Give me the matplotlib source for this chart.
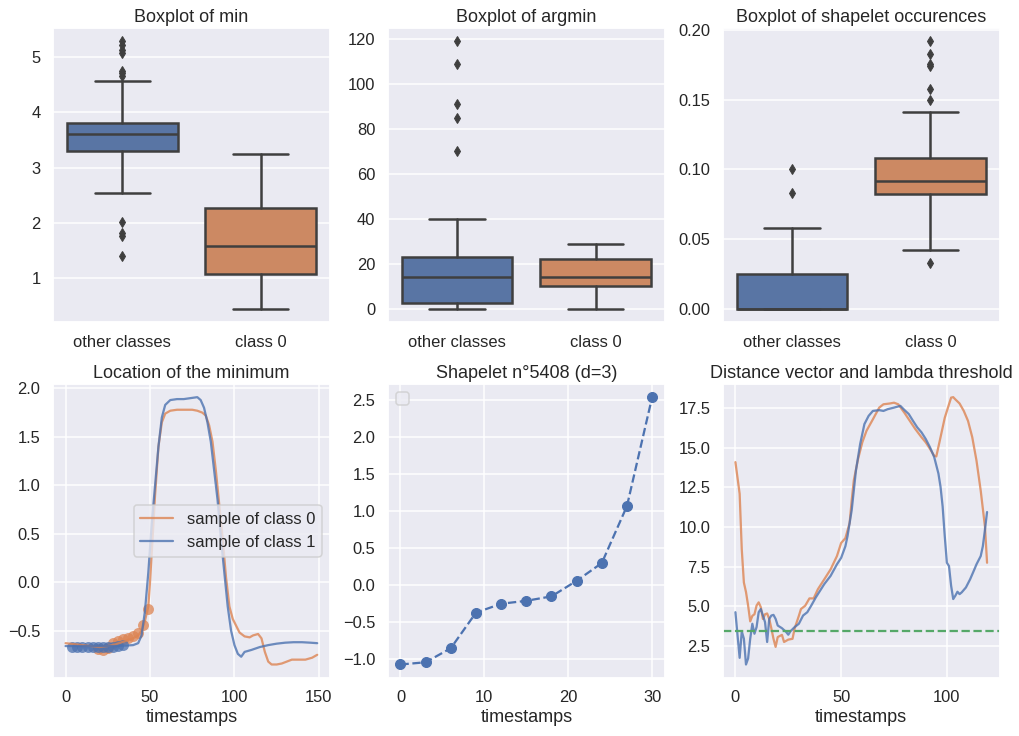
import matplotlib
matplotlib.use("Agg")
import matplotlib.pyplot as plt
import seaborn as sns

sns.set_theme(context="talk", style="darkgrid")
plt.rcParams["font.family"] = ["Liberation Sans", "DejaVu Sans"]

# ── Data ──────────────────────────────────────────────────────────────────────
categories = ["other classes", "class 0"]

# box stats as [whislo, q1, med, q3, whishi]
min_other = [2.54, 3.30, 3.60, 3.81, 4.56]
min_other_fliers = [5.28, 5.22, 5.13, 5.07, 4.75, 4.70, 4.66, 2.02, 1.82, 1.76, 1.40]
min_class0 = [0.45, 1.07, 1.59, 2.26, 3.24]
min_class0_fliers = []

argmin_other = [0, 2.5, 14, 23, 40]
argmin_other_fliers = [119, 109, 91, 85, 70]
argmin_class0 = [0, 10, 14, 22, 29]
argmin_class0_fliers = []

occ_other = [0.0, 0.0, 0.0, 0.025, 0.058]
occ_other_fliers = [0.100, 0.083]
occ_class0 = [0.042, 0.082, 0.092, 0.108, 0.141]
occ_class0_fliers = [0.192, 0.183, 0.176, 0.174, 0.158, 0.150, 0.033]

# sample series (location of the minimum)
loc_t0 = [0, 5, 10, 15, 20, 25, 30, 35, 40, 43, 45, 47, 49, 50, 51, 53, 55, 57,
          59, 62, 66, 70, 75, 78, 81, 83, 85, 87, 89, 91, 93, 95, 97, 99, 101,
          103, 106, 109, 111, 114, 116, 118, 120, 122, 125, 128, 131, 134, 138,
          142, 146, 149]
loc_y0 = [-0.63, -0.64, -0.65, -0.66, -0.67, -0.66, -0.64, -0.61, -0.58, -0.55,
          -0.50, -0.40, -0.25, 0.0, 0.3, 0.9, 1.4, 1.65, 1.74, 1.77, 1.78, 1.78,
          1.78, 1.77, 1.75, 1.72, 1.62, 1.45, 1.15, 0.80, 0.45, 0.05, -0.25,
          -0.38, -0.45, -0.52, -0.56, -0.57, -0.55, -0.535, -0.58, -0.72, -0.82,
          -0.85, -0.85, -0.84, -0.82, -0.80, -0.80, -0.80, -0.78, -0.75]
loc_t1 = [0, 10, 20, 30, 40, 43, 45, 47, 49, 51, 53, 55, 57, 59, 62, 66, 70, 74,
          78, 80, 82, 84, 86, 88, 90, 92, 94, 96, 98, 100, 102, 104, 106, 110,
          115, 120, 125, 130, 135, 140, 145, 149]
loc_y1 = [-0.66, -0.66, -0.66, -0.66, -0.65, -0.63, -0.55, -0.30, 0.10, 0.60,
          1.00, 1.40, 1.70, 1.83, 1.88, 1.89, 1.89, 1.90, 1.91, 1.88, 1.80, 1.65,
          1.45, 1.15, 0.85, 0.45, 0.10, -0.25, -0.50, -0.65, -0.74, -0.77, -0.72,
          -0.70, -0.67, -0.65, -0.635, -0.625, -0.62, -0.62, -0.625, -0.63]

match_t0 = [19, 22, 25, 28, 31, 34, 37, 40, 43, 46, 49]
match_y0 = [-0.69, -0.70, -0.68, -0.63, -0.61, -0.59, -0.58, -0.56, -0.53, -0.44, -0.28]
match_t1 = [4, 7, 10, 13, 16, 19, 22, 25, 28, 31, 34]
match_y1 = [-0.67, -0.67, -0.67, -0.67, -0.67, -0.67, -0.67, -0.67, -0.67, -0.66, -0.65]

# shapelet values
shp_t = [0, 3, 6, 9, 12, 15, 18, 21, 24, 27, 30]
shp_y = [-1.07, -1.04, -0.85, -0.37, -0.25, -0.21, -0.15, 0.06, 0.30, 1.07, 2.54]

# distance vectors
dist_t0 = [0, 2, 3, 4, 5, 6, 7, 8, 9, 10, 11, 12, 13, 14, 15, 16, 17, 18, 19,
           20, 22, 23, 25, 27, 28, 30, 31, 33, 35, 37, 39, 42, 45, 48, 50, 52,
           54, 55, 56, 58, 60, 62, 65, 68, 70, 73, 75, 77, 80, 83, 85, 88, 90,
           92, 94, 95, 97, 99, 101, 102, 103, 104, 106, 108, 110, 112, 114, 116,
           118, 119]
dist_y0 = [14.1, 12.1, 8.6, 6.5, 5.9, 5.05, 4.05, 4.4, 4.5, 5.05, 5.25, 4.95,
           4.2, 4.5, 4.55, 4.2, 3.6, 2.95, 2.44, 3.06, 3.2, 2.75, 2.9, 2.95, 3.6,
           4.4, 4.83, 5.04, 5.5, 5.5, 6.08, 6.7, 7.33, 8.17, 9.0, 9.3, 10.25,
           11.7, 12.96, 14.3, 15.35, 16.08, 16.8, 17.54, 17.75, 17.8, 17.85,
           17.75, 17.2, 16.6, 16.2, 15.67, 15.35, 14.94, 14.5, 14.46, 15.67, 16.9,
           17.75, 18.17, 18.2, 18.06, 17.8, 17.33, 16.7, 15.67, 14.2, 12.3, 10.04,
           7.75]
dist_t1 = [0, 1, 2, 3, 4, 5, 6, 7, 8, 9, 10, 11, 12, 13, 14, 15, 16, 17, 18, 19,
           20, 22, 24, 25, 26, 28, 30, 32, 34, 36, 38, 40, 42, 45, 48, 50, 52,
           53, 55, 57, 59, 61, 63, 65, 68, 70, 72, 75, 78, 80, 82, 84, 86, 88, 90,
           92, 94, 96, 97, 98, 99, 100, 101, 102, 103, 104, 105, 106, 107, 109,
           111, 113, 114, 116, 117, 118, 119]
dist_y1 = [4.63, 3.17, 1.75, 3.42, 2.96, 1.33, 1.71, 2.96, 3.9, 3.27, 3.69, 4.63,
           4.83, 4.42, 4.0, 2.75, 4.21, 4.42, 4.46, 4.21, 3.79, 3.62, 3.38, 3.21,
           3.42, 3.69, 3.9, 4.42, 4.63, 5.08, 5.56, 5.98, 6.4, 6.92, 7.65, 8.06,
           8.79, 9.42, 11.08, 13.58, 15.25, 16.5, 17.02, 17.33, 17.38, 17.33,
           17.44, 17.54, 17.65, 17.38, 17.13, 16.7, 16.29, 15.98, 15.56, 15.04,
           14.42, 13.38, 12.54, 11.29, 9.42, 7.75, 7.54, 6.3, 5.46, 5.67, 5.92,
           5.77, 5.88, 6.19, 6.71, 7.33, 7.65, 8.17, 8.79, 9.83, 10.95]
lambda_threshold = 3.45

# ── Style ─────────────────────────────────────────────────────────────────────
pal = sns.color_palette("deep")
C_BLUE, C_ORANGE, C_GREEN = pal[0], pal[1], pal[2]
BOX_COLORS = [sns.desaturate(C_BLUE, 0.75), sns.desaturate(C_ORANGE, 0.75)]
GRAY = "#3f3f3f"
LW = 2.5


def boxplot(ax, boxes, fliers, title):
    stats = []
    for vals, fl, lab in zip(boxes, fliers, categories):
        lo, q1, med, q3, hi = vals
        stats.append(dict(whislo=lo, q1=q1, med=med, q3=q3, whishi=hi,
                          fliers=fl, label=lab))
    res = ax.bxp(stats, positions=[0, 1], widths=0.8, patch_artist=True,
                 boxprops=dict(edgecolor=GRAY, linewidth=LW),
                 medianprops=dict(color=GRAY, linewidth=LW),
                 whiskerprops=dict(color=GRAY, linewidth=LW),
                 capprops=dict(color=GRAY, linewidth=LW),
                 flierprops=dict(marker="d", markerfacecolor=GRAY,
                                 markeredgecolor=GRAY, markersize=7.5))
    for patch, c in zip(res["boxes"], BOX_COLORS):
        patch.set_facecolor(c)
    ax.set_xlim(-0.5, 1.5)
    ax.xaxis.grid(False)
    ax.set_title(title)


fig, axes = plt.subplots(2, 3, figsize=(1019 / 72, 736 / 72), dpi=72)
fig.subplots_adjust(left=0.052, right=0.981, top=0.962, bottom=0.079,
                    wspace=0.21, hspace=0.21)

boxplot(axes[0, 0], [min_other, min_class0],
        [min_other_fliers, min_class0_fliers], "Boxplot of min")
boxplot(axes[0, 1], [argmin_other, argmin_class0],
        [argmin_other_fliers, argmin_class0_fliers], "Boxplot of argmin")
boxplot(axes[0, 2], [occ_other, occ_class0],
        [occ_other_fliers, occ_class0_fliers], "Boxplot of shapelet occurences")

# ── Location of the minimum ──────────────────────────────────────────────────
ax = axes[1, 0]
ax.plot(loc_t0, loc_y0, color=C_ORANGE, alpha=0.8, lw=2.25, label="sample of class 0")
ax.plot(loc_t1, loc_y1, color=C_BLUE, alpha=0.8, lw=2.25, label="sample of class 1")
ax.scatter(match_t0, match_y0, color=C_ORANGE, alpha=0.75, s=120, lw=0)
ax.scatter(match_t1, match_y1, color=C_BLUE, alpha=0.75, s=120, lw=0)
ax.legend(loc="center right")
ax.set_title("Location of the minimum")
ax.set_xlabel("timestamps")

# ── Shapelet ─────────────────────────────────────────────────────────────────
ax = axes[1, 1]
ax.plot(shp_t, shp_y, "o--", color=C_BLUE, markersize=10, lw=2.25)
ax.legend(handles=[], loc="upper left")
ax.set_title("Shapelet n°5408 (d=3)")
ax.set_xlabel("timestamps")

# ── Distance vector ──────────────────────────────────────────────────────────
ax = axes[1, 2]
ax.plot(dist_t0, dist_y0, color=C_ORANGE, alpha=0.8, lw=2.25)
ax.plot(dist_t1, dist_y1, color=C_BLUE, alpha=0.8, lw=2.25)
ax.axhline(lambda_threshold, color=C_GREEN, linestyle="--", lw=2.25)
ax.set_title("Distance vector and lambda threshold")
ax.set_xlabel("timestamps")

plt.savefig("out.png", dpi=72)
